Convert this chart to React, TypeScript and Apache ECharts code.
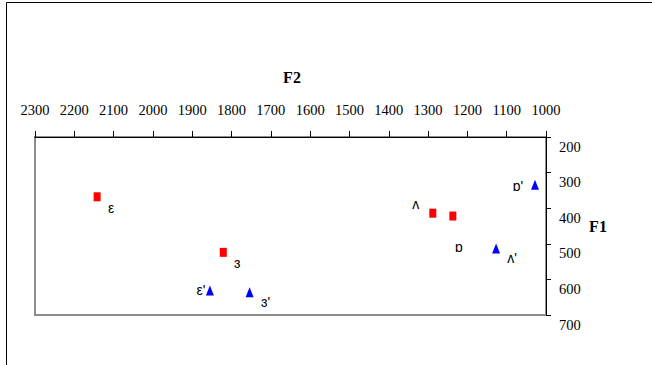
import React, { useEffect, useRef } from "react";
import * as echarts from "echarts";

// Red squares (vowel set 1)
const redLabels = ["ε", "ɜ", "ʌ", "ɒ"];
const redF2 = [2142, 1821, 1288, 1237];
const redF1 = [368, 524, 414, 422];

// Blue triangles (vowel set 2)
const blueLabels = ["ε'", "ɜ'", "ʌ'", "ɒ'"];
const blueF2 = [1855, 1754, 1127, 1028];
const blueF1 = [631, 636, 513, 334];

// Axis ranges / ticks
const f2Min = 1000;
const f2Max = 2300;
const f2Step = 100;
const f1Min = 200;
const f1Max = 700;
const f1Step = 100;

// label placement (presentation only)
const redLabelOffsets = [[14, 11], [14, 11], [-17, -9], [6, 31]];
const blueLabelOffsets = [[-9, 0], [16, 10], [16, 10], [-17, 1]];

const labelFont = "Liberation Sans";
const serif = "'Times New Roman', 'Liberation Serif', serif";

export default function App() {
  const ref = useRef<HTMLDivElement>(null);
  useEffect(() => {
    if (!ref.current) return;
    const chart = echarts.init(ref.current, undefined, { renderer: "svg" });
    const mk = (
      f2: number[],
      f1: number[],
      labels: string[],
      offs: number[][]
    ) =>
      f2.map((x, i) => ({
        value: [x, f1[i]],
        label: {
          show: true,
          formatter: labels[i],
          position: "inside",
          align: "center",
          verticalAlign: "middle",
          offset: offs[i],
          color: "#000",
          fontFamily: labelFont,
          fontSize: 14,
        },
      }));
    chart.setOption({
      animation: false,
      backgroundColor: "#fff",
      grid: {
        left: 35,
        right: 106,
        top: 137,
        bottom: 50,
        show: true,
        borderColor: "#8c8c8c",
        borderWidth: 2,
      },
      xAxis: {
        type: "value",
        position: "top",
        inverse: true,
        min: f2Min,
        max: f2Max,
        interval: f2Step,
        splitLine: { show: false },
        axisLine: { show: true, lineStyle: { color: "#000", width: 1 } },
        axisTick: { show: true, inside: false, length: 6, lineStyle: { color: "#000" } },
        axisLabel: {
          color: "#000",
          fontFamily: serif,
          fontSize: 14.5,
          fontWeight: "normal",
          margin: 20,
          formatter: (v: number) => String(v),
        },
      },
      yAxis: {
        type: "value",
        position: "right",
        inverse: true,
        min: f1Min,
        max: f1Max,
        interval: f1Step,
        splitLine: { show: false },
        axisLine: { show: true, lineStyle: { color: "#000", width: 1 } },
        axisTick: { show: true, inside: false, length: 5, lineStyle: { color: "#000" } },
        axisLabel: {
          color: "#000",
          fontFamily: serif,
          fontSize: 14.5,
          fontWeight: "normal",
          margin: 13,
          verticalAlign: "top",
          padding: [2, 0, 0, 0],
          formatter: (v: number) => String(v),
        },
      },
      graphic: [
        {
          type: "rect",
          shape: { x: 6.5, y: 2.5, width: 800, height: 500 },
          style: { fill: "none", stroke: "#000", lineWidth: 1 },
          silent: true,
          z: -10,
        },
        {
          type: "text",
          x: 292,
          y: 77,
          style: {
            text: "F2",
            font: `bold 16px ${serif}`,
            fill: "#000",
            textAlign: "center",
            textVerticalAlign: "middle",
          },
        },
        {
          type: "text",
          x: 598,
          y: 226,
          style: {
            text: "F1",
            font: `bold 16px ${serif}`,
            fill: "#000",
            textAlign: "center",
            textVerticalAlign: "middle",
          },
        },
      ],
      series: [
        {
          type: "scatter",
          symbol: "rect",
          symbolSize: [7, 9],
          itemStyle: { color: "#ff0000", opacity: 1 },
          data: mk(redF2, redF1, redLabels, redLabelOffsets),
        },
        {
          type: "scatter",
          symbol: "triangle",
          symbolSize: [8, 10],
          itemStyle: { color: "#0000ff", opacity: 1 },
          data: mk(blueF2, blueF1, blueLabels, blueLabelOffsets),
        },
      ],
    });
    return () => chart.dispose();
  }, []);
  return (
    <div
      ref={ref}
      style={{ position: "fixed", left: 0, top: 0, width: 652, height: 365 }}
    />
  );
}
